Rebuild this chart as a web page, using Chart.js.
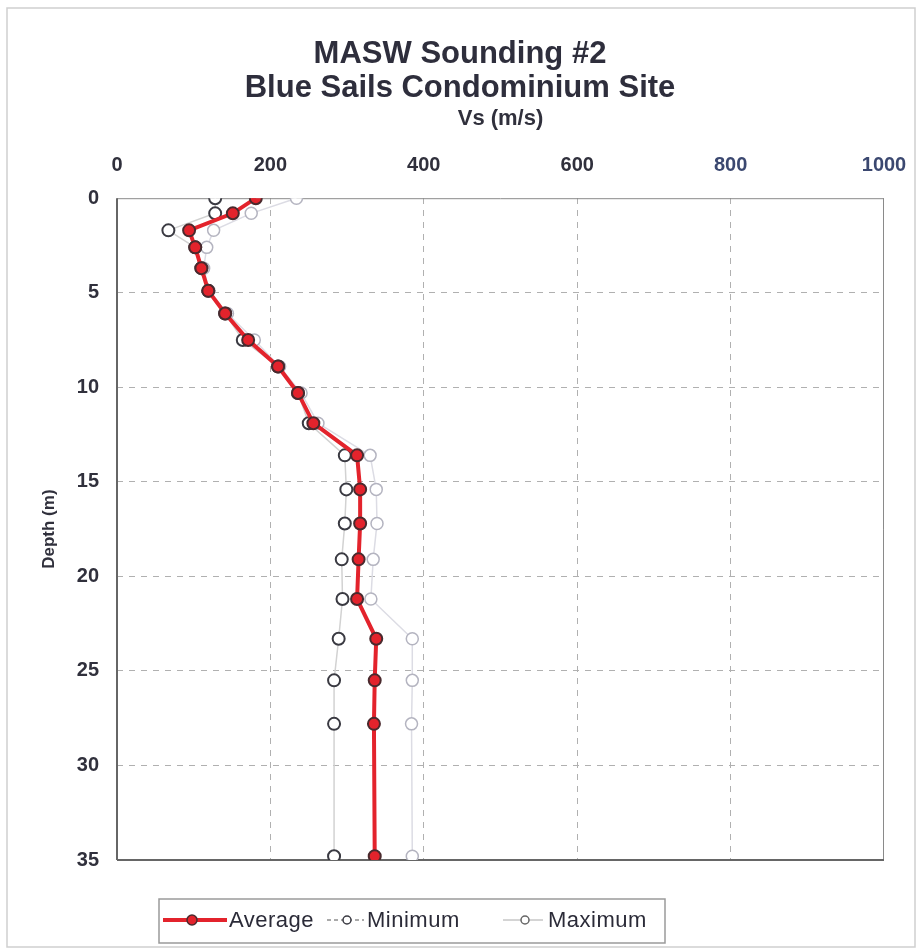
<!DOCTYPE html>
<html>
<head>
<meta charset="utf-8">
<script src="https://cdn.jsdelivr.net/npm/chart.js@4.4.1/dist/chart.umd.min.js"></script>
<style>
  html, body { margin: 0; padding: 0; background: #fff; }
  #wrap { width: 922px; height: 951px; }
</style>
</head>
<body>
<div id="wrap"><canvas id="maswChart" width="922" height="951"></canvas></div>
<script>
// --- datos ---
const depths = [0, 0.8, 1.7, 2.6, 3.7, 4.9, 6.1, 7.5, 8.9, 10.3, 11.9, 13.6, 15.4, 17.2, 19.1, 21.2, 23.3, 25.5, 27.8, 34.8];
const vsAverage = [181, 151, 94, 102, 110, 119, 141, 171, 210, 236, 256, 313, 317, 317, 315, 313, 338, 336, 335, 336];
const vsMinimum = [128, 128, 67, 102, 110, 119, 141, 164, 210, 236, 250, 297, 299, 297, 293, 294, 289, 283, 283, 283];
const vsMaximum = [234, 175, 126, 117, 113, 120, 144, 179, 212, 240, 262, 330, 338, 339, 334, 331, 385, 385, 384, 385];
const seriesNames = ['Average', 'Minimum', 'Maximum'];
const titleLines = ['MASW Sounding #2', 'Blue Sails Condominium Site'];
const xTitle = 'Vs (m/s)';
const yTitle = 'Depth (m)';

const FONT = "'Liberation Sans', Arial, sans-serif";
const pts = vals => vals.map((v, i) => ({ x: v, y: depths[i] }));

// marco del area de trazado y marco exterior
const framePlugin = {
    id: 'frame',
    beforeDraw(chart) {
        const c = chart.ctx;
        c.save();
        c.strokeStyle = '#cfcfcf';
        c.lineWidth = 1.5;
        c.strokeRect(7, 8, 908, 939);
        c.restore();
    },
    beforeDatasetsDraw(chart) {
        const { ctx: c, chartArea: a } = chart;
        c.save();
        c.strokeStyle = '#8a8a8a';
        c.lineWidth = 1;
        c.beginPath();
        c.moveTo(a.left, a.top + 0.5); c.lineTo(a.right, a.top + 0.5);
        c.moveTo(a.right - 0.5, a.top); c.lineTo(a.right - 0.5, a.bottom);
        c.stroke();
        c.strokeStyle = '#666';
        c.lineWidth = 2;
        c.beginPath();
        c.moveTo(a.left, a.bottom); c.lineTo(a.right, a.bottom);
        c.moveTo(a.left, a.top); c.lineTo(a.left, a.bottom);
        c.stroke();
        c.restore();
    }
};

// leyenda dibujada a mano (linea + marcador como en Excel)
const legendPlugin = {
    id: 'boxLegend',
    afterDraw(chart) {
        const c = chart.ctx;
        const ds = chart.data.datasets;
        const y = 920;
        const items = [
            { x0: 163, x1: 227, mx: 192, tx: 229 },
            { x0: 327, x1: 364, mx: 347, tx: 367 },
            { x0: 503, x1: 543, mx: 525, tx: 548 }
        ];
        c.save();
        c.strokeStyle = '#9a9a9a';
        c.lineWidth = 1.5;
        c.strokeRect(159, 899, 506, 44);
        items.forEach((it, i) => {
            const d = ds[i];
            c.strokeStyle = i === 0 ? d.borderColor : (i === 1 ? '#555' : '#aaa');
            c.lineWidth = i === 0 ? 4 : 1;
            c.setLineDash(i === 1 ? [4, 3] : []);
            c.beginPath();
            c.moveTo(it.x0, y); c.lineTo(it.x1, y);
            c.stroke();
            c.setLineDash([]);
            c.beginPath();
            c.arc(it.mx, y, i === 0 ? 5 : 4, 0, Math.PI * 2);
            c.fillStyle = d.pointBackgroundColor;
            c.fill();
            c.lineWidth = 1.5;
            c.strokeStyle = i === 2 ? '#666' : d.pointBorderColor;
            c.stroke();
            c.fillStyle = '#2b2b38';
            c.font = '22px ' + FONT;
            c.letterSpacing = '0.5px';
            c.textBaseline = 'middle';
            c.textAlign = 'left';
            c.fillText(d.label, it.tx, y + 1);
        });
        c.restore();
    }
};

const edgeGrid = (lo, hi) => ctx =>
    (ctx.tick && (ctx.tick.value === lo || ctx.tick.value === hi)) ? 'rgba(0,0,0,0)' : '#b0b0b0';

new Chart(document.getElementById('maswChart'), {
    type: 'scatter',
    data: {
        datasets: [{
            label: seriesNames[0],
            data: pts(vsAverage),
            showLine: true,
            borderColor: '#e3232c',
            borderWidth: 4,
            pointRadius: 6,
            pointBorderWidth: 2,
            pointBorderColor: '#4a2a2e',
            pointBackgroundColor: '#e3232c'
        }, {
            label: seriesNames[1],
            data: pts(vsMinimum),
            showLine: true,
            borderColor: '#d2d2d2',
            borderWidth: 1.5,
            pointRadius: 6,
            pointBorderWidth: 2,
            pointBorderColor: '#3a3a42',
            pointBackgroundColor: '#ffffff'
        }, {
            label: seriesNames[2],
            data: pts(vsMaximum),
            showLine: true,
            borderColor: '#dcdce4',
            borderWidth: 1.5,
            pointRadius: 6,
            pointBorderWidth: 1.5,
            pointBorderColor: '#b4b4c0',
            pointBackgroundColor: '#ffffff'
        }]
    },
    options: {
        responsive: false,
        animation: false,
        layout: { padding: { left: 36, right: 38, top: 0, bottom: 91 } },
        plugins: {
            legend: { display: false },
            tooltip: { enabled: false },
            title: {
                display: true,
                text: titleLines,
                color: '#2e2e3c',
                font: { family: FONT, size: 31, weight: 'bold', lineHeight: 1.1 },
                padding: { top: 37, bottom: 0 }
            }
        },
        scales: {
            x: {
                type: 'linear',
                position: 'top',
                min: 0,
                max: 1000,
                afterFit: s => { s.height = 93; s.paddingLeft = 0; s.paddingRight = 0; },
                ticks: {
                    stepSize: 200,
                    padding: 21,
                    callback: v => String(v),
                    color: ctx => (ctx.tick.value >= 800 ? '#3b4870' : '#30303c'),
                    font: { family: FONT, size: 20, weight: 'bold' }
                },
                grid: { color: edgeGrid(0, 1000), drawTicks: false, lineWidth: 1 },
                border: { display: false, dash: [6, 6] },
                title: {
                    display: true,
                    text: xTitle,
                    color: '#30303c',
                    font: { family: FONT, size: 22, weight: 'bold' },
                    padding: { top: 1, bottom: 0 }
                }
            },
            y: {
                type: 'linear',
                reverse: true,
                min: 0,
                max: 35,
                afterFit: s => { s.width = 81; s.paddingTop = 0; s.paddingBottom = 0; },
                ticks: {
                    stepSize: 5,
                    padding: 18,
                    color: '#30303c',
                    font: { family: FONT, size: 20, weight: 'bold' }
                },
                grid: { color: edgeGrid(0, 35), drawTicks: false, lineWidth: 1 },
                border: { display: false, dash: [6, 6] },
                title: {
                    display: true,
                    text: yTitle,
                    color: '#30303c',
                    font: { family: FONT, size: 17, weight: 'bold' },
                    padding: { top: 3, bottom: 0 }
                }
            }
        }
    },
    plugins: [framePlugin, legendPlugin]
});
</script>
</body>
</html>
